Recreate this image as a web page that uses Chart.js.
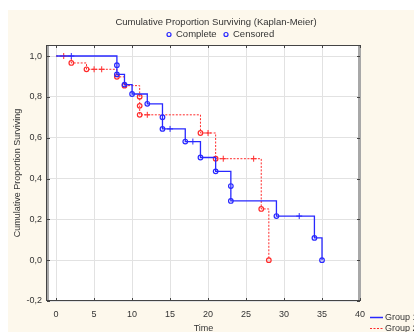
<!DOCTYPE html>
<html>
<head>
<meta charset="utf-8">
<script src="https://cdn.jsdelivr.net/npm/chart.js@4/dist/chart.umd.min.js"></script>
<style>
  html, body { margin: 0; padding: 0; background: #fff; }
  #wrap { width: 414px; height: 332px; }
</style>
</head>
<body>
<div id="wrap"><canvas id="kmChart" width="414" height="332"></canvas></div>
<script>
// Group 1 (complete events, step curve)
const group1Times = [0, 8, 8, 9, 10, 12, 14, 14, 17, 19, 21, 23, 23, 29, 34, 35];
const group1Surv = [1.0, 0.955, 0.91, 0.86, 0.814, 0.766, 0.70, 0.643, 0.581, 0.503, 0.435, 0.363, 0.29, 0.216, 0.109, 0.0];
const group1CensTimes = [2, 15, 18, 32];
const group1CensSurv = [1.0, 0.643, 0.581, 0.216];

// Group 2
const group2Times = [0, 2, 4, 8, 9, 11, 11, 11, 19, 21, 27, 28];
const group2Surv = [1.0, 0.966, 0.935, 0.898, 0.855, 0.801, 0.756, 0.712, 0.623, 0.497, 0.251, 0.0];
const group2CensTimes = [1, 5, 6, 12, 20, 22, 26];
const group2CensSurv = [1.0, 0.935, 0.935, 0.712, 0.623, 0.497, 0.497];

const xTicks = [0, 5, 10, 15, 20, 25, 30, 35, 40];
const yTicks = [-0.2, 0.0, 0.2, 0.4, 0.6, 0.8, 1.0];

const BLUE = "#2828ff";
const RED = "#ff2a2a";
const FONT = "'Liberation Sans', Arial, sans-serif";

function pts(xs, ys) {
    return xs.map((x, i) => ({ x: x, y: ys[i] }));
}

const framePlugin = {
    id: "frame",
    beforeDraw(chart) {
        const c = chart.ctx, a = chart.chartArea;
        c.save();
        c.fillStyle = "#ffffff";
        c.fillRect(0, 0, chart.width, chart.height);
        c.fillStyle = "#fdf8ec";
        c.fillRect(8, 10, chart.width - 8, chart.height - 10);
        c.fillStyle = "#ffffff";
        c.fillRect(a.left, a.top, a.right - a.left, a.bottom - a.top);
        c.restore();
    },
    beforeDatasetsDraw(chart) {
        const c = chart.ctx, a = chart.chartArea;
        const xs = chart.scales.x, ys = chart.scales.y;
        c.save();
        // side bars
        c.fillStyle = "#a8a8a8";
        c.fillRect(a.left - 1, a.top, 3, a.bottom - a.top);
        c.fillRect(a.right - 2, a.top, 3, a.bottom - a.top);
        c.strokeStyle = "#444";
        c.lineWidth = 1;
        c.beginPath();
        c.moveTo(a.left - 1, a.top + 0.5); c.lineTo(a.right + 1, a.top + 0.5);
        c.moveTo(a.left - 1, a.bottom - 0.5); c.lineTo(a.right + 1, a.bottom - 0.5);
        c.moveTo(a.left - 0.5, a.top); c.lineTo(a.left - 0.5, a.bottom);
        c.stroke();
        // small tick marks
        c.beginPath();
        xTicks.forEach(v => {
            const px = Math.round(xs.getPixelForValue(v)) + 0.5;
            c.moveTo(px, a.top); c.lineTo(px, a.top + 3);
            c.moveTo(px, a.bottom); c.lineTo(px, a.bottom - 3);
        });
        yTicks.forEach(v => {
            const py = Math.round(ys.getPixelForValue(v)) + 0.5;
            c.moveTo(a.left, py); c.lineTo(a.left + 3, py);
            c.moveTo(a.right, py); c.lineTo(a.right - 3, py);
        });
        c.stroke();
        c.restore();
    },
    afterDraw(chart) {
        const c = chart.ctx;
        c.save();
        c.fillStyle = "#333";
        c.textBaseline = "middle";
        c.font = "9.5px " + FONT;
        c.textAlign = "center";
        c.fillText("Cumulative Proportion Surviving (Kaplan-Meier)", 216, 22);
        // marker legend
        c.textAlign = "left";
        c.strokeStyle = BLUE;
        c.lineWidth = 1.2;
        [[169, "Complete"], [226, "Censored"]].forEach(([x, t]) => {
            c.beginPath();
            c.arc(x, 34.5, 2, 0, Math.PI * 2);
            c.stroke();
            c.fillText(t, x + 7, 34.5);
        });
        // group legend
        c.font = "9px " + FONT;
        c.strokeStyle = BLUE;
        c.lineWidth = 1.5;
        c.beginPath(); c.moveTo(370, 317.5); c.lineTo(383, 317.5); c.stroke();
        c.fillText("Group 1", 385, 317.5);
        c.strokeStyle = RED;
        c.lineWidth = 1;
        c.setLineDash([2, 1.5]);
        c.beginPath(); c.moveTo(370, 328.5); c.lineTo(383, 328.5); c.stroke();
        c.setLineDash([]);
        c.fillText("Group 2", 385, 328.5);
        c.restore();
    }
};

const ctx = document.getElementById("kmChart").getContext("2d");

new Chart(ctx, {
    type: "line",
    data: {
        datasets: [
            {
                label: "Group 1",
                data: pts(group1Times, group1Surv),
                stepped: "before",
                borderColor: BLUE,
                borderWidth: 1.3,
                pointStyle: "circle",
                pointRadius: ctx => ctx.dataIndex === 0 ? 0 : 2.3,
                pointBorderColor: BLUE,
                pointBackgroundColor: "rgba(255,255,255,0)",
                pointBorderWidth: 1.2,
                fill: false
            },
            {
                label: "Group 1 censored",
                data: pts(group1CensTimes, group1CensSurv),
                showLine: false,
                pointStyle: "cross",
                pointRadius: 3,
                pointBorderColor: BLUE,
                pointBorderWidth: 1
            },
            {
                label: "Group 2",
                data: pts(group2Times, group2Surv),
                stepped: "before",
                borderColor: RED,
                borderWidth: 1,
                borderDash: [2, 1.5],
                pointStyle: "circle",
                pointRadius: ctx => ctx.dataIndex === 0 ? 0 : 2.3,
                pointBorderColor: RED,
                pointBackgroundColor: "rgba(255,255,255,0)",
                pointBorderWidth: 1.2,
                fill: false
            },
            {
                label: "Group 2 censored",
                data: pts(group2CensTimes, group2CensSurv),
                showLine: false,
                pointStyle: "cross",
                pointRadius: 3,
                pointBorderColor: RED,
                pointBorderWidth: 1
            }
        ]
    },
    options: {
        responsive: false,
        animation: false,
        layout: { padding: { left: 0, top: 45, right: 54, bottom: 0 } },
        plugins: {
            legend: { display: false },
            tooltip: { enabled: false },
            title: { display: false }
        },
        scales: {
            x: {
                type: "linear",
                min: -1.2,
                max: 40,
                afterBuildTicks: s => { s.ticks = xTicks.map(v => ({ value: v })); },
                afterFit: s => { s.height = 31; },
                grid: { color: "#e2e2e2", lineWidth: 1, drawTicks: false },
                border: { display: false },
                ticks: {
                    padding: 8,
                    color: "#333",
                    font: { family: FONT, size: 9 },
                    maxRotation: 0
                },
                title: {
                    display: true,
                    text: "Time",
                    color: "#333",
                    font: { family: FONT, size: 9 },
                    padding: { top: 0, bottom: -2 }
                }
            },
            y: {
                type: "linear",
                min: -0.2,
                max: 1.054,
                afterBuildTicks: s => { s.ticks = yTicks.map(v => ({ value: v })); },
                afterFit: s => { s.width = 47; },
                grid: { color: "#e2e2e2", lineWidth: 1, drawTicks: false },
                border: { display: false },
                ticks: {
                    padding: 5,
                    color: "#333",
                    font: { family: FONT, size: 9 },
                    callback: v => v.toFixed(1).replace(".", ",")
                },
                title: {
                    display: true,
                    text: "Cumulative Proportion Surviving",
                    color: "#333",
                    font: { family: FONT, size: 9 },
                    padding: { top: 12, bottom: 0 }
                }
            }
        }
    },
    plugins: [framePlugin]
});
</script>
</body>
</html>
